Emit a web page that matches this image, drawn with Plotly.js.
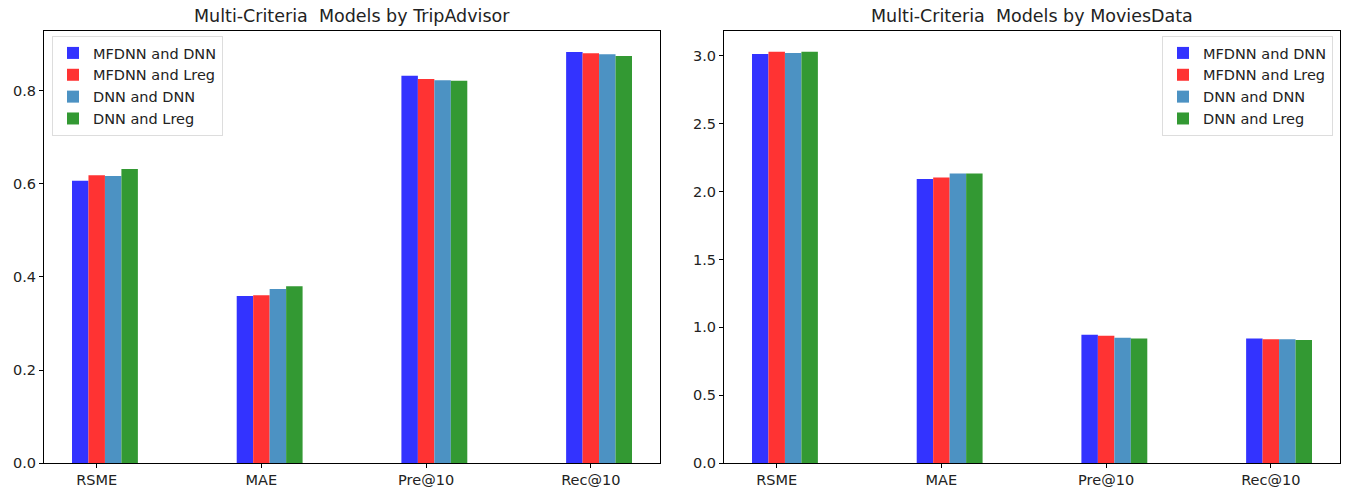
<!DOCTYPE html>
<html>
<head>
<meta charset="utf-8">
<script src="https://cdn.plot.ly/plotly-3.0.1.min.js"></script>
<style>html,body{margin:0;padding:0;background:#fff;}#chart{width:1348px;height:490px;}</style>
</head>
<body>
<div id="chart"></div>
<script>
const categories = ["RSME", "MAE", "Pre@10", "Rec@10"];
const seriesNames = ["MFDNN and DNN", "MFDNN and Lreg", "DNN and DNN", "DNN and Lreg"];

// TripAdvisor values
const tripMFDNN_DNN  = [0.607, 0.359, 0.833, 0.884];
const tripMFDNN_Lreg = [0.619, 0.361, 0.826, 0.881];
const tripDNN_DNN    = [0.617, 0.374, 0.823, 0.879];
const tripDNN_Lreg   = [0.632, 0.380, 0.822, 0.875];

// MoviesData values
const movMFDNN_DNN  = [3.014, 2.094, 0.946, 0.917];
const movMFDNN_Lreg = [3.031, 2.104, 0.937, 0.912];
const movDNN_DNN    = [3.021, 2.134, 0.924, 0.912];
const movDNN_Lreg   = [3.031, 2.134, 0.917, 0.907];

const colors = ["#3333FF", "#FF3333", "#4C92C3", "#339933"];
const offsets = [-0.1, 0, 0.1, 0.2];
const barWidth = 0.1;

const FONT = "'DejaVu Sans', sans-serif";
const TXT = "#222222";

const tripSeries = [tripMFDNN_DNN, tripMFDNN_Lreg, tripDNN_DNN, tripDNN_Lreg];
const movSeries = [movMFDNN_DNN, movMFDNN_Lreg, movDNN_DNN, movDNN_Lreg];

const traces = [];
tripSeries.forEach((vals, s) => {
  traces.push({
    type: "bar",
    name: seriesNames[s],
    x: categories.map((c, i) => i + offsets[s]),
    y: vals,
    width: barWidth,
    marker: {color: colors[s], line: {width: 0}},
    xaxis: "x", yaxis: "y",
    legend: "legend",
    hoverinfo: "y"
  });
});
movSeries.forEach((vals, s) => {
  traces.push({
    type: "bar",
    name: seriesNames[s],
    x: categories.map((c, i) => i + offsets[s]),
    y: vals,
    width: barWidth,
    marker: {color: colors[s], line: {width: 0}},
    xaxis: "x2", yaxis: "y2",
    legend: "legend2",
    hoverinfo: "y"
  });
});

const W = 1348, H = 490;
const TOP = 31, BOT = 27;
const PH = H - TOP - BOT;
const py = (pix) => 1 - (pix - TOP) / PH;   // pixel row -> paper y

const axisCommon = {
  showline: true, mirror: true, linecolor: "#000", linewidth: 1,
  ticks: "outside", ticklen: 4, tickcolor: "#000", tickwidth: 1,
  showgrid: false, zeroline: false,
  tickfont: {family: FONT, size: 14.5, color: TXT}
};

const legendCommon = {
  font: {family: FONT, size: 14.5, color: TXT},
  bgcolor: "rgba(255,255,255,0.8)",
  bordercolor: "#DDDDDD", borderwidth: 1,
  xref: "paper", yref: "paper",
  yanchor: "top",
  tracegroupgap: 0,
  itemwidth: 30
};

const layout = {
  width: W, height: H,
  margin: {l: 0, r: 0, t: TOP, b: BOT, pad: 0},
  paper_bgcolor: "#fff", plot_bgcolor: "#fff",
  barmode: "overlay",
  showlegend: true,
  xaxis: Object.assign({}, axisCommon, {
    domain: [44 / W, 660 / W],
    range: [-0.32, 3.42],
    tickmode: "array", tickvals: categories.map((c, i) => i), ticktext: categories,
    anchor: "y"
  }),
  yaxis: Object.assign({}, axisCommon, {
    domain: [0, 1],
    range: [0, 0.929],
    tickmode: "linear", tick0: 0, dtick: 0.2, tickformat: ".1f",
    anchor: "x"
  }),
  xaxis2: Object.assign({}, axisCommon, {
    domain: [724 / W, 1340 / W],
    range: [-0.32, 3.42],
    tickmode: "array", tickvals: categories.map((c, i) => i), ticktext: categories,
    anchor: "y2"
  }),
  yaxis2: Object.assign({}, axisCommon, {
    domain: [0, 1],
    range: [0, 3.184],
    tickmode: "linear", tick0: 0, dtick: 0.5, tickformat: ".1f",
    anchor: "x2"
  }),
  legend: Object.assign({}, legendCommon, {x: 52 / W, xanchor: "left", y: py(36)}),
  legend2: Object.assign({}, legendCommon, {x: 1333 / W, xanchor: "right", y: py(36)}),
  annotations: [
    {text: "Multi-Criteria  Models by TripAdvisor", xref: "paper", yref: "paper",
     x: 352 / W, y: py(16), xanchor: "center", yanchor: "middle", showarrow: false,
     font: {family: FONT, size: 17.5, color: TXT}},
    {text: "Multi-Criteria  Models by MoviesData", xref: "paper", yref: "paper",
     x: 1032 / W, y: py(16), xanchor: "center", yanchor: "middle", showarrow: false,
     font: {family: FONT, size: 17.5, color: TXT}}
  ]
};

Plotly.newPlot("chart", traces, layout, {displayModeBar: false, staticPlot: true});
</script>
</body>
</html>
